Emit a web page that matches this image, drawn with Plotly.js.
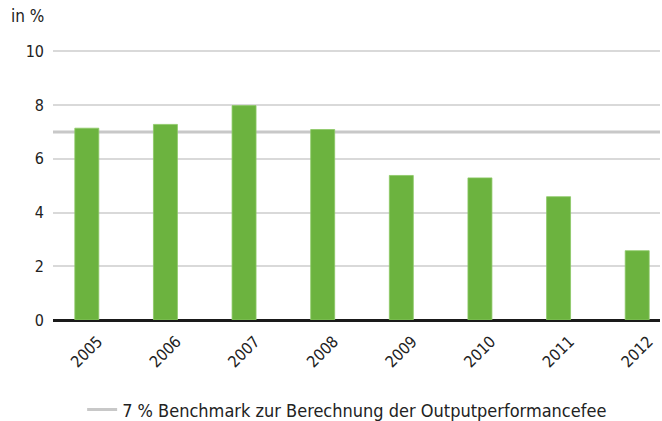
<!DOCTYPE html>
<html>
<head>
<meta charset="utf-8">
<script src="https://cdn.plot.ly/plotly-3.0.1.min.js"></script>
<style>html,body{margin:0;padding:0;background:#fff;}#chart{width:662px;height:421px;}</style>
</head>
<body>
<div id="chart"></div>
<script>
var years = ["2005","2006","2007","2008","2009","2010","2011","2012"];
var values = [7.14, 7.28, 7.98, 7.09, 5.38, 5.29, 4.59, 2.58];
var benchmark = 7;
var benchmarkLabel = "7 % Benchmark zur Berechnung der Outputperformancefee";
var yTicks = [0, 2, 4, 6, 8, 10];

var FONT = "DejaVu Sans Condensed, Liberation Sans Narrow, sans-serif";

var traces = [
  {
    type: "scatter",
    mode: "lines",
    x: [0, 1],
    y: [benchmark, benchmark],
    xaxis: "x",
    line: {color: "#c8c8c8", width: 3},
    name: benchmarkLabel,
    hoverinfo: "skip"
  },
  {
    type: "bar",
    x: years,
    y: values,
    xaxis: "x2",
    width: 0.305,
    marker: {color: "#6cb33f", line: {color: "#8cc864", width: 0.8}},
    showlegend: false,
    hoverinfo: "x+y"
  }
];

var layout = {
  width: 662, height: 421,
  margin: {l: 53, r: 2, t: 50, b: 101, autoexpand: false},
  paper_bgcolor: "#fff", plot_bgcolor: "#fff",
  font: {family: FONT, color: "#222", size: 15},
  xaxis: {
    range: [0, 1], visible: false, fixedrange: true
  },
  xaxis2: {
    overlaying: "x",
    side: "bottom",
    anchor: "y",
    type: "category",
    range: [-0.43, 7.29],
    tickangle: -45,
    tickfont: {size: 16, family: FONT, color: "#222"},
    ticklabelstandoff: 8,
    ticklabelshift: 11,
    showgrid: false, showline: false, ticks: "", zeroline: false,
    automargin: false,
    fixedrange: true
  },
  yaxis: {
    range: [0, 10.05],
    tickvals: yTicks,
    ticktext: yTicks.map(String),
    tickfont: {size: 16, family: FONT, color: "#222"},
    ticklabelstandoff: 8,
    showgrid: true, gridcolor: "#d9d9d9", gridwidth: 2,
    zeroline: true, zerolinecolor: "#1a1a1a", zerolinewidth: 3,
    showline: false, ticks: "", ticklen: 0,
    automargin: false,
    fixedrange: true
  },
  showlegend: true,
  legend: {
    orientation: "h",
    x: 0.048, xanchor: "left",
    y: -0.333, yanchor: "middle",
    font: {size: 18, family: FONT, color: "#222"},
    bgcolor: "rgba(0,0,0,0)"
  },
  annotations: [
    {
      text: "in %", xref: "paper", yref: "paper",
      x: -0.072, y: 1.125, xanchor: "left", yanchor: "middle",
      showarrow: false, font: {size: 17, family: FONT, color: "#222"}
    }
  ]
};

Plotly.newPlot("chart", traces, layout, {displayModeBar: false, staticPlot: true});
</script>
</body>
</html>
